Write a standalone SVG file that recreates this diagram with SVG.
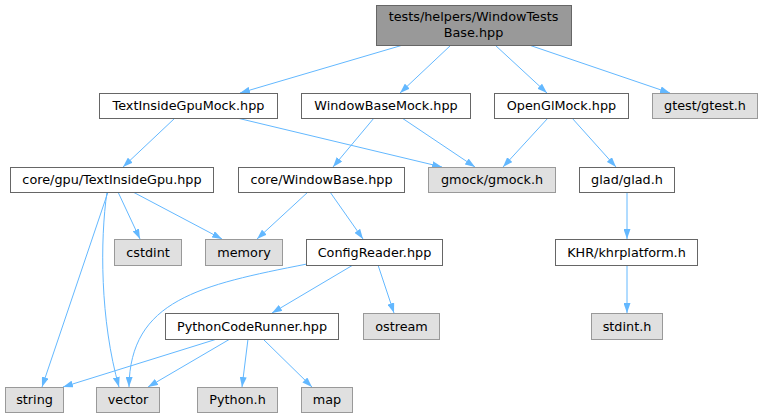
<svg xmlns="http://www.w3.org/2000/svg" width="761" height="417" viewBox="0 0 761 417">
<style>
text{font-family:"DejaVu Sans","Liberation Sans",sans-serif;font-size:12.8px;fill:#000;text-anchor:middle}
.n rect{fill:#fff;stroke:#666;stroke-width:1}
.g rect{fill:#e0e0e0;stroke:#999;stroke-width:1}
.r rect{fill:#999;stroke:#666;stroke-width:1}
.e path{fill:none;stroke:#63b8ff;stroke-width:1;marker-end:url(#a)}
</style>
<defs>
<marker id="a" viewBox="0 0 10 7" refX="10" refY="3.5" markerWidth="10" markerHeight="7" markerUnits="userSpaceOnUse" orient="auto">
<path d="M0,0 L10,3.5 L0,7 z" fill="#63b8ff"/>
</marker>
</defs>
<rect width="761" height="417" fill="#fff"/>
<g id="edges" class="e">
<path d="M403,45 L240,93"/>
<path d="M451,45 L400,93"/>
<path d="M495,45 L547,93"/>
<path d="M529,45 L670,93"/>
<path d="M175,118 L123,167"/>
<path d="M237,118 L442,167"/>
<path d="M374,118 L333,167"/>
<path d="M402,118 L475,167"/>
<path d="M548,118 L503,167"/>
<path d="M572,118 L616,167"/>
<path d="M627,192 L627,239"/>
<path d="M627,265 L627,313"/>
<path d="M118,192 L140,239"/>
<path d="M133,192 L222,239"/>
<path d="M108,192 L42,387"/>
<path d="M107,192 C100,240 100,320 119,387"/>
<path d="M308,192 L257,239"/>
<path d="M330,192 L363,239"/>
<path d="M307,264 C200,285 130,300 129,387"/>
<path d="M353,265 L272,313"/>
<path d="M378,265 L394,313"/>
<path d="M217,339 L63,387"/>
<path d="M230,339 L148,387"/>
<path d="M248,339 L242,387"/>
<path d="M263,339 L312,387"/>
</g>
<g id="root" class="r"><rect x="376.5" y="5.5" width="195" height="40"/><text x="473.5" y="21">tests/helpers/WindowTests</text><text x="473.5" y="36.5">Base.hpp</text></g>
<g id="TextInsideGpuMock" class="n"><rect x="99.5" y="93.5" width="178" height="25"/><text x="188.5" y="110">TextInsideGpuMock.hpp</text></g>
<g id="WindowBaseMock" class="n"><rect x="301.5" y="93.5" width="169" height="25"/><text x="386" y="110">WindowBaseMock.hpp</text></g>
<g id="OpenGlMock" class="n"><rect x="494.5" y="93.5" width="134" height="25"/><text x="561.5" y="110">OpenGlMock.hpp</text></g>
<g id="gtest" class="g"><rect x="652.5" y="93.5" width="105" height="25"/><text x="705" y="110">gtest/gtest.h</text></g>
<g id="TextInsideGpu" class="n"><rect x="10.5" y="167.5" width="203" height="25"/><text x="112" y="184">core/gpu/TextInsideGpu.hpp</text></g>
<g id="WindowBase" class="n"><rect x="238.5" y="167.5" width="166" height="25"/><text x="321.5" y="184">core/WindowBase.hpp</text></g>
<g id="gmock" class="g"><rect x="428.5" y="167.5" width="127" height="25"/><text x="492" y="184">gmock/gmock.h</text></g>
<g id="glad" class="n"><rect x="579.5" y="167.5" width="95" height="25"/><text x="627" y="184">glad/glad.h</text></g>
<g id="cstdint" class="g"><rect x="114.5" y="239.5" width="67" height="26"/><text x="148" y="257">cstdint</text></g>
<g id="memory" class="g"><rect x="205.5" y="239.5" width="77" height="26"/><text x="244" y="257">memory</text></g>
<g id="ConfigReader" class="n"><rect x="306.5" y="239.5" width="136" height="26"/><text x="374.5" y="257">ConfigReader.hpp</text></g>
<g id="KHR" class="n"><rect x="555.5" y="239.5" width="142" height="26"/><text x="626.5" y="257">KHR/khrplatform.h</text></g>
<g id="PythonCodeRunner" class="n"><rect x="165.5" y="313.5" width="173" height="26"/><text x="252" y="331">PythonCodeRunner.hpp</text></g>
<g id="ostream" class="g"><rect x="363.5" y="313.5" width="76" height="26"/><text x="401.5" y="331">ostream</text></g>
<g id="stdint" class="g"><rect x="591.5" y="313.5" width="71" height="26"/><text x="627" y="331">stdint.h</text></g>
<g id="string" class="g"><rect x="5.5" y="387.5" width="58" height="25"/><text x="34.5" y="404">string</text></g>
<g id="vector" class="g"><rect x="96.5" y="387.5" width="63" height="25"/><text x="128" y="404">vector</text></g>
<g id="Python" class="g"><rect x="197.5" y="387.5" width="80" height="25"/><text x="237.5" y="404">Python.h</text></g>
<g id="map" class="g"><rect x="301.5" y="387.5" width="51" height="25"/><text x="327" y="404">map</text></g>
</svg>
